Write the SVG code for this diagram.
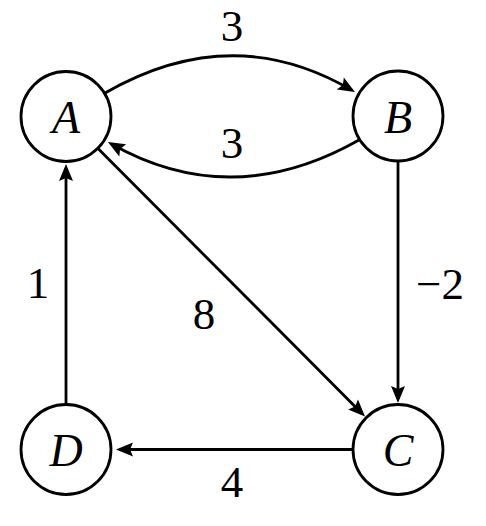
<svg xmlns="http://www.w3.org/2000/svg" width="486" height="526" viewBox="0 0 486 526">
<style>
.node{fill:#fff;stroke:#000;stroke-width:2.8}
.lbl{font-family:"Liberation Serif",serif;font-size:46px;font-style:italic;text-anchor:middle;fill:#000}
.num{font-family:"Liberation Serif",serif;font-size:45px;text-anchor:middle;fill:#000}
.edge{fill:none;stroke:#000;stroke-width:2.8}
</style>
<defs>
<marker id="arr" markerUnits="userSpaceOnUse" viewBox="-14 -8 20 16" refX="0" refY="0" markerWidth="20" markerHeight="16" orient="auto">
<path d="M4,0 L-13,-7 L-10,0 L-13,7 Z" fill="#000"/>
</marker>
</defs>
<rect width="486" height="526" fill="#fff"/>
<g id="connectors">
<path class="edge" d="M105,93 Q232,20 351.5,90" marker-end="url(#arr)"/>
<path class="edge" d="M359,140 Q232,212 111.4,144" marker-end="url(#arr)"/>
<path class="edge" d="M398,162 L398,399" marker-end="url(#arr)"/>
<path class="edge" d="M98,148.5 L362.2,413.7" marker-end="url(#arr)"/>
<path class="edge" d="M66,404 L66,168" marker-end="url(#arr)"/>
<path class="edge" d="M352,449.5 L120,449.5" marker-end="url(#arr)"/>
</g>
<g id="edge-labels">
<text class="num" x="232" y="41">3</text>
<text class="num" x="232" y="158">3</text>
<text class="num" x="440" y="299">−2</text>
<text class="num" x="204" y="329">8</text>
<text class="num" x="38" y="298">1</text>
<text class="num" x="232" y="497">4</text>
</g>
<g id="node-A"><circle class="node" cx="66" cy="116.5" r="45"/><text class="lbl" x="66" y="133">A</text></g>
<g id="node-B"><circle class="node" cx="398" cy="116" r="45"/><text class="lbl" x="398" y="133">B</text></g>
<g id="node-C"><circle class="node" cx="398" cy="449.5" r="45"/><text class="lbl" x="398" y="466">C</text></g>
<g id="node-D"><circle class="node" cx="66" cy="449.5" r="45"/><text class="lbl" x="66" y="466">D</text></g>
</svg>
